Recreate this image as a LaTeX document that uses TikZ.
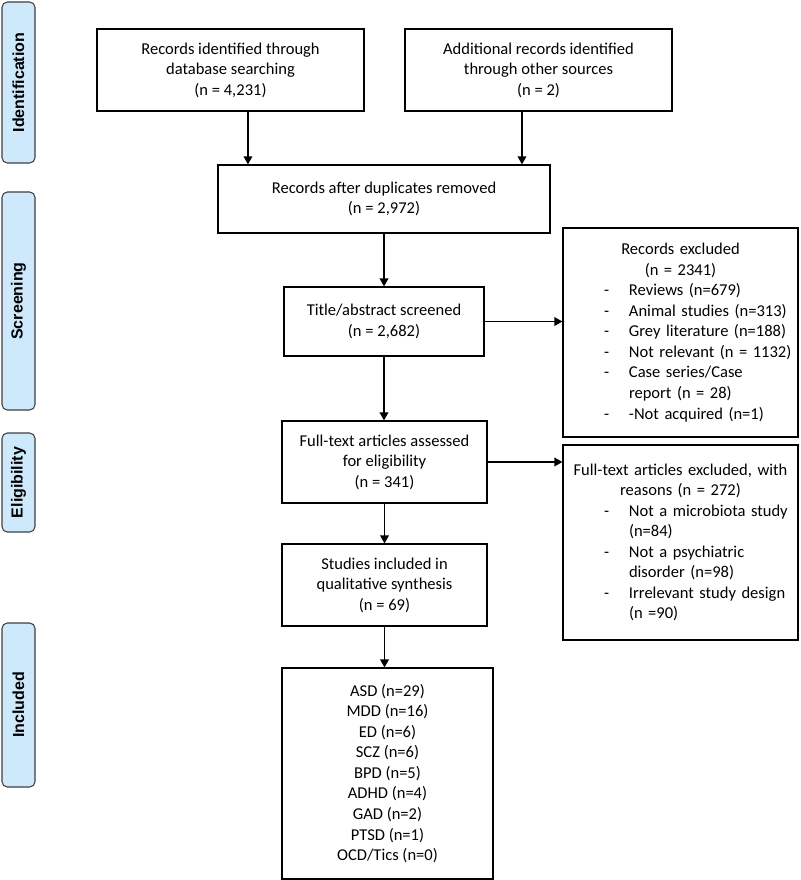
\documentclass[tikz,border=0pt]{standalone}
\usepackage{fontspec}
\setmainfont{Carlito}
\newfontfamily\sidefont{Liberation Sans}
\usetikzlibrary{arrows.meta}
\definecolor{sideblue}{RGB}{207,233,252}
\newlength\exdash \setlength\exdash{30.75pt}
\newlength\exind \setlength\exind{49.5pt}
\newcommand{\exitem}[1]{\noindent\hangindent=\exind\hangafter=1\makebox[\exind][l]{\hspace*{\exdash}-}#1\par}

\begin{document}
\begin{tikzpicture}[x=0.75pt,y=-0.75pt,
	box/.style={draw,line width=0.9pt,align=center,inner sep=2pt,
		font=\fontsize{12.4}{15.4}\selectfont},
	exbox/.style={box,align=left,inner xsep=0pt,text width=176.25pt},
	side/.style={draw=black!75,line width=0.8pt,fill=sideblue,rounded corners=4pt,
		rotate=90,minimum height=24.75pt,inner sep=0pt,
		font=\sidefont\bfseries\fontsize{12}{14}\selectfont},
	arr/.style={-{Triangle[length=6pt,width=6.5pt]},line width=1pt}]
\useasboundingbox (0,0) rectangle (800,880);

\node[side,minimum width=120.75pt] (sid) at (18.5,82.5) {Identification};
\node[side,minimum width=163.5pt] (sscr) at (18.5,301) {Screening};
\node[side,minimum width=74.25pt] (selig) at (18.5,482.5) {Eligibility};
\node[side,minimum width=123pt] (sinc) at (18.5,705) {Included};

\node[box,minimum width=200.25pt,minimum height=61.5pt] (db) at (230.5,70)
	{Records identified through\\database searching\\(n = 4,231)};
\node[box,minimum width=200.25pt,minimum height=61.5pt] (oth) at (538.5,70)
	{Additional records identified\\through other sources\\(n = 2)};
\node[box,minimum width=249pt,minimum height=51pt] (dup) at (384,199)
	{Records after duplicates removed\\(n = 2,972)};
\node[box,minimum width=150pt,minimum height=51.75pt] (tit) at (384,321.5)
	{Title/abstract screened\\(n = 2,682)};
\node[box,minimum width=153.75pt,minimum height=61.5pt] (full) at (384.5,462)
	{Full-text articles assessed\\for eligibility\\(n = 341)};
\node[box,minimum width=153.75pt,minimum height=61.5pt] (incl) at (384.5,585)
	{Studies included in\\qualitative synthesis\\(n = 69)};
\node[box,minimum width=158.25pt,minimum height=158.25pt] (lst) at (387.5,773.5)
	{ASD (n=29)\\MDD (n=16)\\ED (n=6)\\SCZ (n=6)\\BPD (n=5)\\ADHD (n=4)\\GAD (n=2)\\PTSD (n=1)\\OCD/Tics (n=0)};

\node[exbox,minimum height=156.75pt] (exA) at (680.5,332.5)
	{{\centering Records excluded\\(n = 2341)\par}
	\exitem{Reviews (n=679)}
	\exitem{Animal studies (n=313)}
	\exitem{Grey literature (n=188)}
	\exitem{Not relevant (n = 1132)}
	\exitem{Case series/Case\break report (n = 28)}
	\exitem{-Not acquired (n=1)}};
\node[exbox,minimum height=146.25pt] (exB) at (680.5,542.5)
	{{\centering Full-text articles excluded, with\\reasons (n = 272)\par}
	\exitem{Not a microbiota study\break (n=84)}
	\exitem{Not a psychiatric\break disorder (n=98)}
	\exitem{Irrelevant study design\break (n =90)}};

\draw[arr] ([xshift=13.1pt]db.south) -- ([xshift=13.1pt]db.south |- dup.north);
\draw[arr] ([xshift=-12.4pt]oth.south) -- ([xshift=-12.4pt]oth.south |- dup.north);
\draw[arr] (dup.south) -- (tit.north);
\draw[arr] (tit.east) -- (tit.east -| exA.west);
\draw[arr] (tit.south) -- (tit.south |- full.north);
\draw[arr] (full.east) -- (full.east -| exB.west);
\draw[arr] (full.south) -- (incl.north);
\draw[arr] (incl.south) -- (incl.south |- lst.north);
\end{tikzpicture}
\end{document}
